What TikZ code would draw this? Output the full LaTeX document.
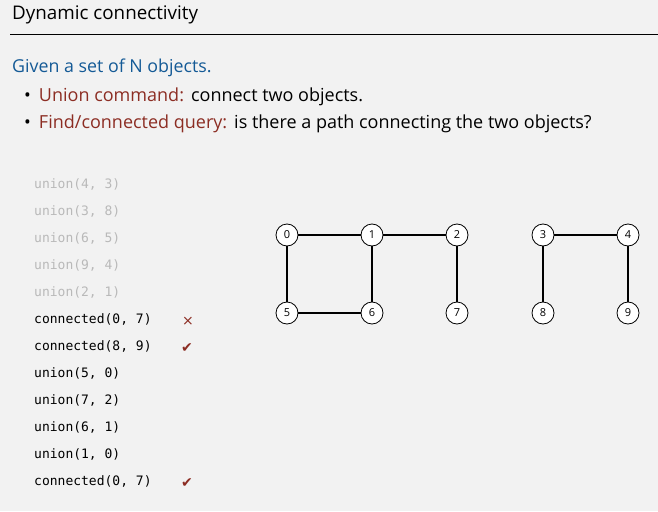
\documentclass[tikz,border=0pt]{standalone}
\usepackage{fontspec}
\setmainfont{Open Sans}
\setmonofont{DejaVu Sans Mono}
\newfontfamily\symfont{DejaVu Sans}
\usepackage{tikz}
\usetikzlibrary{positioning}
\definecolor{bgcol}{RGB}{242,242,242}
\definecolor{givenblue}{RGB}{20,90,150}
\definecolor{termred}{RGB}{140,45,35}
\definecolor{donegray}{RGB}{185,185,185}
\tikzstyle{site} = [circle, draw, thick, fill=white, inner sep=0pt,
    minimum size=22pt, font=\fontsize{11}{11}\selectfont]
\tikzstyle{link} = [draw, line width=1.6pt]
\tikzstyle{op} = [anchor=west, inner sep=0pt, font=\ttfamily\fontsize{13}{13}\selectfont]
\tikzstyle{done} = [op, text=donegray]
\tikzstyle{verdict} = [anchor=center, inner sep=0pt, text=termred, font=\symfont\fontsize{14}{14}\selectfont]
\begin{document}
\begin{tikzpicture}[x=1pt, y=-1pt]
    \fill [bgcol] (0,0) rectangle (658,511);
    \useasboundingbox (0,0) rectangle (658,511);
    % Header
    \node [anchor=west, inner sep=0pt, font=\fontsize{18.8}{19}\selectfont] (title) at (12,15) {Dynamic connectivity};
    \draw [line width=0.7pt] (10,34) -- (658,34);
    \node [anchor=west, inner sep=0pt, text=givenblue, font=\fontsize{17.8}{18}\selectfont] (given) at (12,68) {Given a set of N objects.};
    \node [anchor=west, inner sep=0pt, font=\fontsize{18}{18}\selectfont] (union) at (24,97)
        {\textbullet\hspace{8pt}\textcolor{termred}{Union command:}\hspace{7pt}connect two objects.};
    \node [anchor=west, inner sep=0pt, font=\fontsize{18}{18}\selectfont] (find) at (24,124)
        {\textbullet\hspace{8pt}\textcolor{termred}{Find/connected query:}\hspace{7pt}is there a path connecting the two objects?};
    % Operations
    \node [done] (u1) at (34,184) {union(4, 3)};
    \node [done] (u2) at (34,211) {union(3, 8)};
    \node [done] (u3) at (34,238) {union(6, 5)};
    \node [done] (u4) at (34,265) {union(9, 4)};
    \node [done] (u5) at (34,292) {union(2, 1)};
    \node [op] (c1) at (34,319) {connected(0, 7)};
    \node [op] (c2) at (34,346) {connected(8, 9)};
    \node [op] (u6) at (34,373) {union(5, 0)};
    \node [op] (u7) at (34,400) {union(7, 2)};
    \node [op] (u8) at (34,427) {union(6, 1)};
    \node [op] (u9) at (34,454) {union(1, 0)};
    \node [op] (c3) at (34,481) {connected(0, 7)};
    \node [verdict] (m1) at (188,321) {×};
    \node [verdict] (m2) at (187,348) {✔};
    \node [verdict] (m3) at (187,483) {✔};
    % Sites
    \node [site] (s0) at (287,235) {0};
    \node [site] (s1) at (372,235) {1};
    \node [site] (s2) at (457,235) {2};
    \node [site] (s3) at (543,235) {3};
    \node [site] (s4) at (628,235) {4};
    \node [site] (s5) at (287,313) {5};
    \node [site] (s6) at (372,313) {6};
    \node [site] (s7) at (457,313) {7};
    \node [site] (s8) at (543,313) {8};
    \node [site] (s9) at (628,313) {9};
    % Links
    \path [link] (s0) -- (s1);
    \path [link] (s1) -- (s2);
    \path [link] (s0) -- (s5);
    \path [link] (s5) -- (s6);
    \path [link] (s1) -- (s6);
    \path [link] (s2) -- (s7);
    \path [link] (s3) -- (s4);
    \path [link] (s3) -- (s8);
    \path [link] (s4) -- (s9);
\end{tikzpicture}
\end{document}
